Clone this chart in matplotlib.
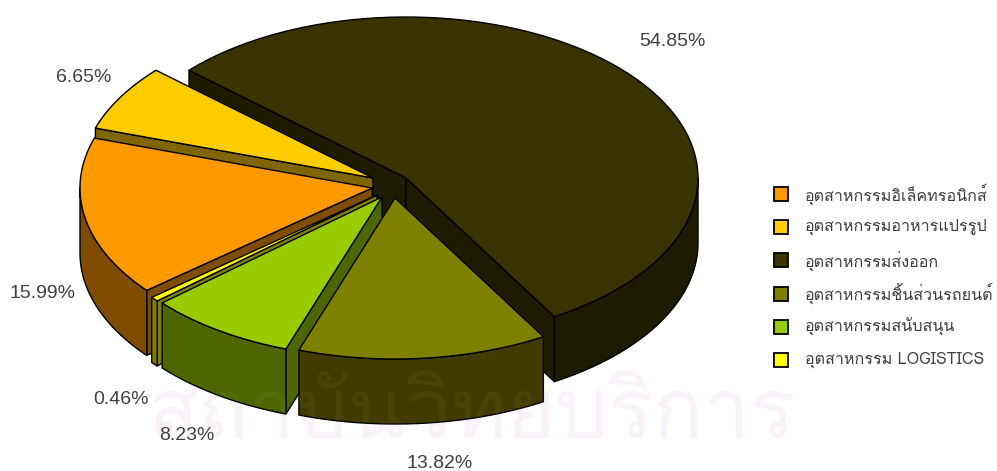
import numpy as np
import matplotlib
matplotlib.use("Agg")
import matplotlib.pyplot as plt

# values, clockwise in legend order
categories = ["อุตสาหกรรมอิเล็คทรอนิกส์", "อุตสาหกรรมอาหารแปรรูป", "อุตสาหกรรมส่งออก",
              "อุตสาหกรรมชิ้นส่วนรถยนต์", "อุตสาหกรรมสนับสนุน", "อุตสาหกรรม LOGISTICS"]
values = [15.99, 6.65, 54.85, 13.82, 8.23, 0.46]
value_labels = ["15.99%", "6.65%", "54.85%", "13.82%", "8.23%", "0.46%"]

top_colors = ["#FF9900", "#FFCC00", "#383300", "#808000", "#99CC00", "#FFFF00"]
wall_colors = ["#804C00", "#806600", "#1E1C00", "#403C00", "#4D6600", "#808000"]

# layout in pixels
rx, ry, depth = 292, 161, 65
start_angle = 219.5
apexes = [(372, 188), (373, 178), (406, 178), (395, 198), (382, 197), (377, 195)]
label_pos = [(42, 294), (84, 77), (672, 41), (440, 463), (187, 436), (121, 400)]
draw_order = [2, 1, 0, 5, 4, 3]

plt.rcParams["font.family"] = ["Loma", "Liberation Sans", "DejaVu Sans"]

fig = plt.figure(figsize=(9.97, 4.71), dpi=100)
ax = fig.add_axes([0, 0, 1, 1])
ax.set_xlim(0, 997)
ax.set_ylim(471, 0)
ax.axis("off")

# faint watermark behind the chart
mark = "สถาบันวิทยบริการ"
ax.text(471, 438, mark, fontsize=60, color="#F9F4F9", ha="center", va="baseline", zorder=0)

# slice angles from the values
spans = np.array(values) * 3.6
ends = start_angle - np.cumsum(spans)
starts = ends + spans


def rim(cx, cy, a0, a1, n=80):
    t = np.radians(np.linspace(a0, a1, n))
    return cx + rx * np.cos(t), cy - ry * np.sin(t)


for i in draw_order:
    cx, cy = apexes[i]
    a0, a1 = starts[i], ends[i]
    mid = np.radians((a0 + a1) / 2)
    mx, my = rx * np.cos(mid), -ry * np.sin(mid)

    # cut faces that look towards the viewer
    for a in (a0, a1):
        ex, ey = rx * np.cos(np.radians(a)), -ry * np.sin(np.radians(a))
        if (ex * my - ey * mx) * ex < 0:
            ax.fill([cx, cx + ex, cx + ex, cx], [cy, cy + ey, cy + ey + depth, cy + depth],
                    facecolor=wall_colors[i], edgecolor="black", lw=1, joinstyle="round", zorder=2)

    # outer wall, only the front half of the rim
    for p, q in ((max(a1, 180), min(a0, 360)), (max(a1, -180), min(a0, 0))):
        if q > p:
            x, y = rim(cx, cy, p, q)
            ax.fill(np.r_[x, x[::-1]], np.r_[y, y[::-1] + depth],
                    facecolor=wall_colors[i], edgecolor="black", lw=1, joinstyle="round", zorder=2)

    x, y = rim(cx, cy, a0, a1)
    ax.fill(np.r_[cx, x], np.r_[cy, y], facecolor=top_colors[i], edgecolor="black", lw=1,
            joinstyle="round", zorder=2)

# watermark shows slightly through the slices too
ax.text(471, 438, mark, fontsize=60, color="#FFF0FF", alpha=0.04, ha="center", va="baseline", zorder=3)

for (lx, ly), s in zip(label_pos, value_labels):
    ax.text(lx, ly, s, fontsize=14, color="#404040", ha="center", va="center",
            family="Liberation Sans", zorder=4)

# legend
for j, name in enumerate(categories):
    yc = 194 + j * 33.2
    ax.add_patch(plt.Rectangle((773.5, yc - 7), 14, 14, facecolor=top_colors[j], edgecolor="black", lw=1.3, zorder=4))
    ax.text(805, yc, name, fontsize=11.6, color="#404040", va="center", ha="left", zorder=4)

fig.savefig("out.png", dpi=100)
